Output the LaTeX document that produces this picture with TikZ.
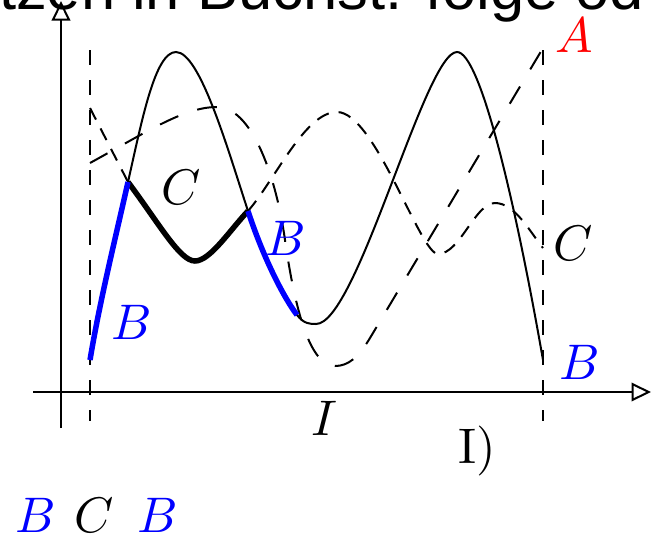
\documentclass[tikz,border=0pt]{standalone}
\usepackage{fontspec}
\newfontfamily\headfont{Liberation Sans}
\usetikzlibrary{arrows.meta}

\begin{document}
\begin{tikzpicture}[
    x=0.2pt, y=-0.2pt,
    axis/.style={-{Triangle[open, length=3.9pt, width=3.7pt]}, line width=0.4pt},
    guide/.style={dashed, line width=0.4pt},
    curveA/.style={dash pattern=on 4pt off 4pt, line width=0.4pt},
    curveC/.style={dash pattern=on 2.6pt off 2pt, line width=0.4pt},
    curveB/.style={line width=0.4pt},
    hlB/.style={blue, line width=1.1pt},
    hlC/.style={black, line width=1.1pt},
    lbl/.style={inner sep=0pt, font=\fontsize{10}{12}\selectfont},
]
\useasboundingbox (0,0) rectangle (653,534);

% heading, cut off by the page
\node[inner sep=0pt, anchor=base west, font=\headfont\fontsize{12.3}{15}\selectfont] (head) at (-2,9) {tzen in Buchst. folge od};

% axes
\coordinate (xs) at (33,392);
\coordinate (xe) at (651,392);
\coordinate (ys) at (61,428);
\coordinate (ye) at (61,1);
\draw[axis] (xs) -- (xe);
\draw[axis] (ys) -- (ye);

% interval bounds
\coordinate (l0) at (90,50);
\coordinate (l1) at (90,421);
\coordinate (r0) at (543,50);
\coordinate (r1) at (543,421);
\draw[guide] (l0) -- (l1);
\draw[guide] (r0) -- (r1);

% key points
\coordinate (b0) at (90,360);
\coordinate (b1) at (128,182);
\coordinate (b2) at (248,211);
\coordinate (b3) at (297,315);

% curve A
\draw[curveA] (90,163) .. controls (150,130) and (185,107) .. (217,107)
    .. controls (250,107) and (275,170) .. (285,240)
    .. controls (295,310) and (310,366) .. (335,366)
    .. controls (348,366) and (358,358) .. (370,338) -- (543,48);

% curve C
\draw[curveC] (90,108) -- (b1);
\draw[curveC] (b2) .. controls (275,180) and (305,112) .. (337,112)
    .. controls (375,112) and (420,254) .. (438,254)
    .. controls (460,254) and (475,203) .. (495,203)
    .. controls (515,203) and (530,232) .. (543,248);

% curve B
\draw[curveB] (b0) .. controls (100,300) and (115,240) .. (b1)
    .. controls (142,120) and (155,52) .. (176,52)
    .. controls (200,52) and (228,150) .. (b2)
    .. controls (262,254) and (282,295) .. (b3)
    .. controls (304,324) and (310,324) .. (316,324)
    .. controls (357,324) and (425,52) .. (457,52)
    .. controls (480,52) and (515,200) .. (543,360);

% highlighted pieces
\draw[hlC] (b1) .. controls (160,225) and (180,261) .. (195,261)
    .. controls (210,261) and (230,230) .. (b2);
\draw[hlB] (b0) .. controls (100,300) and (115,240) .. (b1);
\draw[hlB] (b2) .. controls (262,254) and (282,295) .. (b3);

% labels
\node[lbl, red] (labA) at (574,35) {$A$};
\node[lbl] (labC) at (573,243) {$C$};
\node[lbl, blue] (labB) at (580,362) {$B$};
\node[lbl] (labCin) at (181,187) {$C$};
\node[lbl, blue] (labBl) at (132,322) {$B$};
\node[lbl, blue] (labBm) at (286,238) {$B$};
\node[lbl] (labI) at (324,418) {$I$};
\node[lbl, anchor=base west] (part) at (457,463) {I)};

% key below
\node[lbl, blue, anchor=base west] (keyB) at (14,532) {$B$};
\node[lbl, anchor=base west] (keyC) at (73,532) {$C$};
\node[lbl, blue, anchor=base west] (keyBB) at (136,532) {$B$};

\end{tikzpicture}
\end{document}
